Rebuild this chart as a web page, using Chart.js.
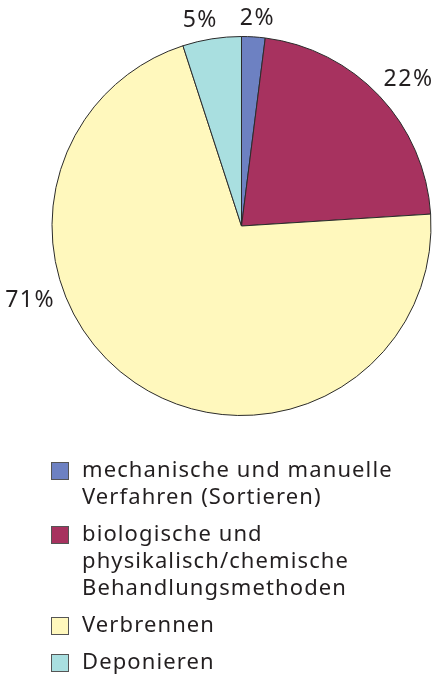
<!DOCTYPE html>
<html>
<head>
<meta charset="utf-8">
<script src="https://cdn.jsdelivr.net/npm/chart.js@4"></script>
<style>
  html, body { margin: 0; padding: 0; background: #ffffff; }
  #wrap { width: 436px; height: 680px; position: relative; }
</style>
</head>
<body>
<div id="wrap"><canvas id="myChart" width="436" height="680"></canvas></div>
<script>
// Anteile der Entsorgungswege in %
const categories = [
    ['mechanische und manuelle', 'Verfahren (Sortieren)'],
    ['biologische und', 'physikalisch/chemische', 'Behandlungsmethoden'],
    ['Verbrennen'],
    ['Deponieren']
];
const values = [2, 22, 71, 5];
const valueLabels = ['2%', '22%', '71%', '5%'];

const colors = ['#6d81c2', '#a7325f', '#fff8bd', '#a9dfe0'];
const textColor = '#231f20';
const fontFamily = '"Noto Sans", "Liberation Sans", sans-serif';

// where the percent labels sit: angle from 12 o'clock (deg) and distance from center
const labelPlacement = [
    { angle: 4.4, dist: 208 },
    { angle: 48.8, dist: 222 },
    { angle: 250.7, dist: 224 },
    { angle: 348.7, dist: 210 }
];

const outsideLabels = {
    id: 'outsideLabels',
    afterDraw(chart) {
        const ctx = chart.ctx;
        const arc = chart.getDatasetMeta(0).data[0];
        const cx = arc.x, cy = arc.y;
        ctx.save();
        ctx.fillStyle = textColor;
        ctx.font = '23px ' + fontFamily;
        ctx.letterSpacing = '1.5px';
        ctx.textAlign = 'center';
        ctx.textBaseline = 'middle';
        valueLabels.forEach((txt, i) => {
            const a = labelPlacement[i].angle * Math.PI / 180;
            const d = labelPlacement[i].dist;
            ctx.fillText(txt, cx + Math.sin(a) * d, cy - Math.cos(a) * d);
        });
        ctx.restore();
    }
};

// Legende unten, mehrzeilig
const bottomLegend = {
    id: 'bottomLegend',
    afterDraw(chart) {
        const ctx = chart.ctx;
        const boxX = 51, box = 18, textX = 82;
        const lineH = 27, gap = 10;
        let y = 471;
        ctx.save();
        ctx.font = '22px ' + fontFamily;
        ctx.letterSpacing = '1.1px';
        ctx.textBaseline = 'middle';
        ctx.textAlign = 'left';
        categories.forEach((lines, i) => {
            ctx.fillStyle = colors[i];
            ctx.fillRect(boxX, y - box / 2, box, box);
            ctx.strokeStyle = '#555555';
            ctx.lineWidth = 1;
            ctx.strokeRect(boxX + 0.5, y - box / 2 + 0.5, box - 1, box - 1);
            ctx.fillStyle = textColor;
            lines.forEach((ln, j) => {
                ctx.fillText(ln, textX, y + j * lineH);
            });
            y += lines.length * lineH + gap;
        });
        ctx.restore();
    }
};

const ctx = document.getElementById('myChart').getContext('2d');
const chart = new Chart(ctx, {
    type: 'pie',
    data: {
        labels: categories.map(c => c.join(' ')),
        datasets: [{
            data: values,
            backgroundColor: colors,
            borderColor: '#2b2b2b',
            borderWidth: 1
        }]
    },
    options: {
        responsive: false,
        animation: false,
        layout: { padding: { left: 51, right: 4, top: 36, bottom: 264 } },
        plugins: {
            legend: { display: false },
            tooltip: { enabled: false }
        }
    },
    plugins: [outsideLabels, bottomLegend]
});
</script>
</body>
</html>
